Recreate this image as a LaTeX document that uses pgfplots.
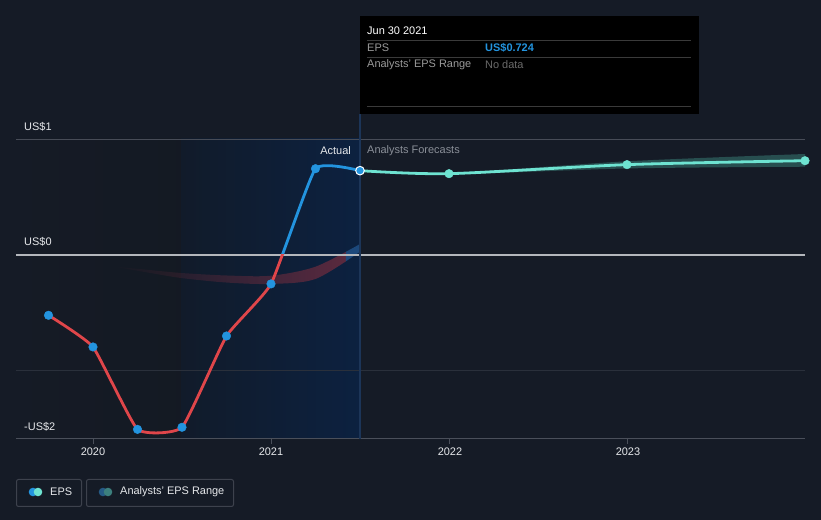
\documentclass[border=0pt]{standalone}
\usepackage{pgfplots}
\pgfplotsset{compat=1.18}
\usepgfplotslibrary{fillbetween}
\usetikzlibrary{fadings}
\usepackage{fontspec}
\setmainfont{Liberation Sans}
\definecolor{bg}{HTML}{151B26}
\definecolor{darkL}{HTML}{111419}
\definecolor{blueL}{HTML}{111B2A}
\definecolor{blueR}{HTML}{0C2140}
\definecolor{epsblue}{HTML}{2394DF}
\definecolor{epsred}{HTML}{E0464A}
\definecolor{epsteal}{HTML}{6EE3D1}
\definecolor{bandred}{HTML}{6E2C3E}
\definecolor{bandblue}{HTML}{1F4F86}
\definecolor{bandteal}{HTML}{2B5757}
\definecolor{gridA}{HTML}{474C57}
\definecolor{gridZ}{HTML}{B4B7BC}
\definecolor{gridB}{HTML}{2A303B}
\definecolor{axisC}{HTML}{4A4F5A}
\definecolor{vline}{HTML}{1C3558}
\definecolor{txt}{HTML}{E6E8EB}
\definecolor{grey}{HTML}{8A8F98}
\definecolor{tipgrey}{HTML}{9A9A9A}
\definecolor{tipdark}{HTML}{6B6B6B}
\definecolor{tipline}{HTML}{3A3A3A}
\definecolor{legbord}{HTML}{3D424D}
\definecolor{legblue}{HTML}{255A85}
\definecolor{legteal}{HTML}{3C7F7D}
\tikzfading[name=fadeleft, left color=transparent!100, middle color=transparent!0, right color=transparent!0]
\begin{document}
\begin{tikzpicture}[every node/.style={font=\fontsize{11}{13}\selectfont, inner sep=0pt}]
\begin{axis}[width=821bp,height=520bp,scale only axis,
  xmin=2019.47753,xmax=2024.08989,ymin=-2.2904,ymax=2.2040,
  axis line style={draw=none}, xtick=\empty, ytick=\empty,
  axis background/.style={fill=bg, path picture={
    \fill[left color=bg, right color=darkL] ([xshift=16bp,yshift=-139bp]path picture bounding box.north west) rectangle ([xshift=181bp,yshift=-438.5bp]path picture bounding box.north west);
    \fill[left color=blueL, right color=blueR] ([xshift=181bp,yshift=-139bp]path picture bounding box.north west) rectangle ([xshift=360bp,yshift=-438.5bp]path picture bounding box.north west);
  }}]
% grid lines
\draw[gridA, line width=1bp] (axis cs:2019.567,1) -- (axis cs:2024,1);
\draw[gridB, line width=1bp] (axis cs:2019.567,-1) -- (axis cs:2024,-1);
\draw[gridZ, line width=1.2bp] (axis cs:2019.567,0) -- (axis cs:2024,0);
\draw[axisC, line width=1.2bp] (axis cs:2019.567,-1.586) -- (axis cs:2024,-1.586);
\foreach \t in {2020,2021,2022,2023} {\edef\tmp{\noexpand\draw[axisC, line width=1bp] (axis cs:\t,-1.586) -- (axis cs:\t,-1.63);}\tmp}
\draw[vline, line width=1.2bp] (axis cs:2021.5,1.2187) -- (axis cs:2021.5,-1.586);
% past analysts band
\addplot[name path=ru, draw=none, smooth] coordinates {(2020.096,-0.095)(2020.32,-0.13)(2020.5,-0.156)(2020.75,-0.177)(2021.0,-0.179)(2021.25,-0.101)(2021.5,0.095)};
\addplot[name path=rl, draw=none, smooth] coordinates {(2020.096,-0.095)(2020.32,-0.155)(2020.5,-0.2)(2020.75,-0.238)(2021.0,-0.25)(2021.25,-0.207)(2021.5,0.029)};
\addplot[fill=bandred, fill opacity=0.8, draw=none, path fading=fadeleft] fill between[of=ru and rl, soft clip={domain=2020.0:2021.42}];
\addplot[fill=bandblue, fill opacity=0.85, draw=none] fill between[of=ru and rl, soft clip={domain=2021.42:2021.5}];
% forecast band
\addplot[name path=fu, draw=none, smooth] coordinates {(2021.5,0.729)(2022,0.708)(2023,0.81)(2024,0.873)};
\addplot[name path=fl, draw=none, smooth] coordinates {(2021.5,0.729)(2022,0.698)(2023,0.748)(2024,0.763)};
\addplot[fill=bandteal, fill opacity=0.85, draw=none] fill between[of=fu and fl];
% EPS actual lines
\begin{scope}
\clip (axis cs:2019,0) rectangle (axis cs:2025,3);
\addplot[epsblue, line width=2.8bp, smooth, tension=0.25] coordinates {(2019.75,-0.521)(2020.0,-0.795)(2020.25,-1.507)(2020.5,-1.489)(2020.75,-0.70)(2021.0,-0.25)(2021.25,0.746)(2021.5,0.729)};
\end{scope}
\begin{scope}
\clip (axis cs:2019,-3) rectangle (axis cs:2025,0);
\addplot[epsred, line width=2.8bp, smooth, tension=0.25] coordinates {(2019.75,-0.521)(2020.0,-0.795)(2020.25,-1.507)(2020.5,-1.489)(2020.75,-0.70)(2021.0,-0.25)(2021.25,0.746)(2021.5,0.729)};
\end{scope}
% forecast line
\addplot[epsteal, line width=2.8bp, smooth, tension=0.45] coordinates {(2021.5,0.729)(2022,0.703)(2023,0.781)(2024,0.815)};
% marks
\addplot[only marks, mark=*, mark size=4.3bp, color=epsblue] coordinates {(2019.75,-0.521)(2020.0,-0.795)(2020.25,-1.507)(2020.5,-1.489)(2020.75,-0.70)(2021.0,-0.25)(2021.25,0.746)};
\addplot[only marks, mark=*, mark size=4.3bp, mark options={fill=epsblue, draw=white, line width=1bp}] coordinates {(2021.5,0.729)};
\addplot[only marks, mark=*, mark size=4.3bp, color=epsteal] coordinates {(2022,0.703)(2023,0.781)(2024,0.815)};
\end{axis}
\begin{scope}[x=1bp,y=-1bp,yshift=520bp]
% y labels
\node[anchor=west, txt] at (24,127) {US\$1};
\node[anchor=west, txt] at (24,242) {US\$0};
\node[anchor=west, txt] at (24,427) {-US\$2};
% x labels
\node[txt] at (93,452) {2020};
\node[txt] at (271,452) {2021};
\node[txt] at (450,452) {2022};
\node[txt] at (628,452) {2023};
% Actual / forecasts
\node[anchor=east, txt] at (351,151) {Actual};
\node[anchor=west, grey] at (367,151) {Analysts Forecasts};
% tooltip
\fill[black] (360,16) rectangle (699,114);
\node[anchor=west, white] at (367,31) {Jun 30 2021};
\draw[tipline, line width=1bp] (367,40.5) -- (691,40.5);
\node[anchor=west, tipgrey] at (367,48) {EPS};
\node[anchor=west, epsblue] at (485,48) {\textbf{US\$0.724}};
\draw[tipline, line width=1bp] (367,57.5) -- (691,57.5);
\node[anchor=west, tipgrey] at (367,65) {Analysts' EPS Range};
\node[anchor=west, tipdark] at (485,65) {No data};
\draw[tipline, line width=1bp] (367,106.5) -- (691,106.5);
% legend
\draw[legbord, line width=1bp, rounded corners=2bp] (16.5,479.5) rectangle (81.5,506.5);
\fill[epsblue] (33,492) circle (4.3);
\fill[epsteal] (38,492) circle (4.3);
\node[anchor=west, txt] at (50,492) {EPS};
\draw[legbord, line width=1bp, rounded corners=2bp] (86.5,479.5) rectangle (233.5,506.5);
\fill[legblue] (103,492) circle (4.3);
\fill[legteal] (108,492) circle (4.3);
\node[anchor=west, txt] at (120,492) {Analysts' EPS Range};
\end{scope}
\end{tikzpicture}
\end{document}
